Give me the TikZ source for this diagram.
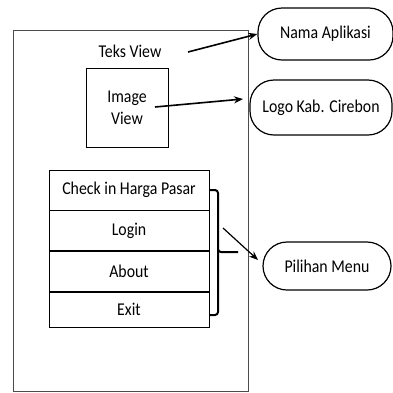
\documentclass[tikz,border=0pt]{standalone}
\usepackage{fontspec}
\setmainfont{Carlito}[FakeStretch=0.88]
\usetikzlibrary{arrows.meta,positioning}
\tikzset{
	screen/.style={draw=black!70,line width=0.8pt,inner sep=0pt},
	box/.style={draw,rectangle,align=center,line width=0.7pt,inner sep=0pt},
	item/.style={box,minimum width=160pt,minimum height=40pt},
	target/.style={draw,rectangle,rounded corners=24pt,line width=1.2pt,align=center},
	arr/.style={-{Stealth[length=9pt,width=7pt]},line width=1.6pt},
	every node/.style={font=\fontsize{18}{22}\selectfont}
}
\begin{document}
\begin{tikzpicture}[x=1pt,y=-1pt]
	\useasboundingbox (0,0) rectangle (393,392);
	% layar aplikasi
	\node[screen,minimum width=235pt,minimum height=361pt] (layar) at (130.5,210.5) {};
	\node (teks) at (130,51) {Teks View};
	\node[box,minimum width=82pt,minimum height=79pt] (gambar) at (127,107.5) {Image\\View};
	% menu
	\node[item] (cek) at (129,190) {Check in Harga Pasar};
	\node[item,below=0pt of cek] (login) {Login};
	\node[item,below=0pt of login] (about) {About};
	\node[item,minimum height=35pt,below=0pt of about] (exit) {Exit};
	% keterangan
	\node[target,minimum width=135pt,minimum height=52pt] (nama) at (325.5,34) {Nama Aplikasi};
	\node[target,minimum width=142pt,minimum height=55pt] (logo) at (321,107.5) {Logo Kab. Cirebon};
	\node[target,minimum width=128pt,minimum height=48pt] (pilihan) at (327,266) {Pilihan Menu};
	\coordinate (teksujung) at (188,52);
	\coordinate (gambarujung) at (155,107);
	\coordinate (logoujung) at (243,99);
	\coordinate (menuujung) at (223,228);
	\coordinate (pilihanujung) at (258,260);
	\draw[arr] (teksujung) -- (nama.west);
	\draw[arr] (gambarujung) -- (logoujung);
	\draw[arr,line width=1.2pt] (menuujung) -- (pilihanujung);
	% kurung kurawal
	\draw[line width=2pt,rounded corners=3pt] (cek.east) -- (218,190) -- (218,252) -- (238,252)
		(218,250) -- (218,315) -- (exit.east |- 0,315);
\end{tikzpicture}
\end{document}
